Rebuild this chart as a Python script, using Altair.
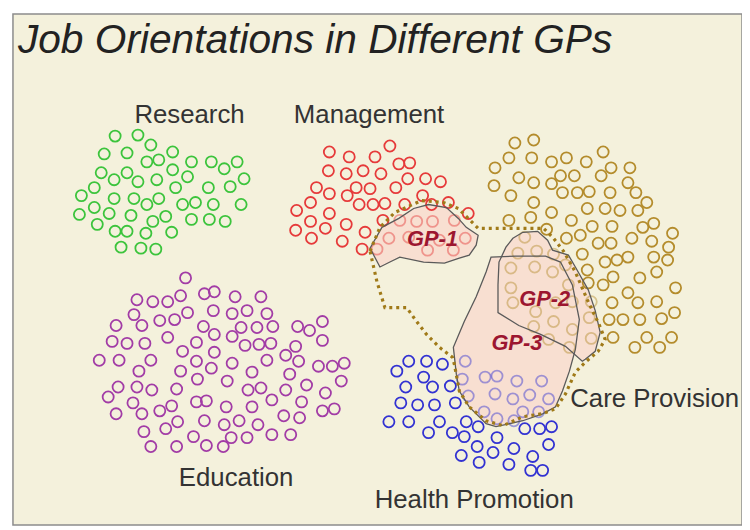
import altair as alt
import pandas as pd

# ---------------- data (in picture pixel units) -------------
groups = ["Research", "Management", "Care Provision", "Education", "Health Promotion"]
group_colors = ["#3cc43c", "#e63a3a", "#b48c2c", "#a23ca6", "#3232d2"]

research_x = [116, 139, 152, 174, 105, 128, 148, 160, 193, 213, 226, 239, 102, 115, 128, 139, 158, 174, 189, 246,
              95, 177, 210, 232, 82, 115, 135, 148, 160, 184, 197, 215, 243, 95, 80, 110, 132, 167, 154, 98,
              193, 211, 227, 116, 128, 147, 173, 122, 142, 157]
research_y = [135, 134, 144, 151, 153, 152, 161, 159, 161, 161, 168, 161, 172, 179, 172, 181, 179, 169, 176, 178,
              187, 187, 187, 186, 195, 198, 198, 204, 198, 204, 202, 204, 204, 207, 214, 213, 215, 216, 221, 224,
              219, 219, 221, 231, 231, 233, 232, 247, 248, 249]

management_x = [393, 332, 352, 378, 402, 413, 331, 349, 366, 384, 411, 429, 444, 319, 332, 359, 373, 399, 350, 426,
                313, 362, 376, 388, 408, 435, 452, 472, 299, 332, 386, 403, 420, 436, 458, 313, 349, 298, 328, 368,
                314, 345, 392, 412, 443, 469, 365, 380, 431, 457]
management_y = [145, 151, 156, 156, 163, 162, 170, 173, 170, 173, 178, 178, 181, 187, 193, 187, 188, 187, 195, 195,
                202, 204, 204, 203, 204, 204, 202, 213, 210, 213, 220, 220, 221, 221, 220, 221, 224, 230, 228, 232,
                238, 241, 238, 237, 240, 238, 249, 249, 250, 250]

care_x = [519, 538, 608, 513, 536, 556, 571, 591, 499, 616, 635, 523, 538, 565, 579, 606, 633, 498, 556, 515,
          567, 582, 594, 615, 641, 538, 652, 592, 610, 625, 643, 556, 535, 513, 576, 597, 617, 648, 659, 678,
          551, 529, 571, 585, 637, 657, 603, 616, 674,
          522, 541, 558, 587, 610, 622, 633, 659, 673,
          515, 539, 557, 570, 592, 618, 645, 662,
          515, 573, 593, 608, 633, 681,
          517, 560, 577, 596, 617, 643, 662,
          540, 680,
          538, 558, 577, 594, 614, 628, 645, 667,
          553, 574, 596, 618, 652, 677, 640, 665]
care_y = [142, 139, 151, 157, 157, 161, 157, 161, 167, 167, 167, 177, 182, 175, 175, 175, 182, 185, 183, 195,
          192, 192, 191, 192, 192, 202, 202, 208, 208, 210, 210, 212, 217, 220, 220, 226, 226, 227, 223, 233,
          229, 237, 238, 235, 238, 241, 243, 243, 247,
          253, 251, 254, 254, 262, 260, 257, 257, 260,
          268, 267, 272, 265, 270, 277, 278, 272,
          288, 285, 283, 285, 293, 288,
          303, 303, 302, 302, 303, 303, 302,
          312, 313,
          327, 322, 330, 318, 320, 320, 320, 319,
          340, 348, 339, 338, 338, 338, 348, 348]

education_x = [187, 138, 154, 169, 182, 206, 216, 135, 143, 161, 176, 189, 215, 117, 205, 113, 128, 146, 169, 198,
               216, 100, 120, 152, 184, 198, 216, 140, 182, 213, 199, 119, 138, 153, 178, 109, 134, 143, 161, 173,
               198, 208, 117, 179, 206, 145, 167, 195, 208, 152, 178,
               237, 263, 234, 249, 269, 243, 259, 275, 300, 312, 325, 234, 247, 261, 273, 288, 298, 325, 234, 269,
               301, 321, 335, 347, 254, 292, 229, 250, 263, 288, 309, 344, 328, 274, 304, 228, 254, 286, 302, 325,
               337, 226, 241, 260, 233, 249, 274, 293, 225]
education_y = [278, 300, 302, 302, 296, 294, 292, 315, 326, 321, 320, 313, 311, 326, 327, 342, 344, 344, 338, 343,
               335, 361, 361, 361, 352, 362, 353, 372, 372, 369, 380, 388, 388, 391, 390, 398, 404, 415, 412, 407,
               403, 402, 415, 423, 422, 433, 430, 438, 447, 448, 448,
               297, 297, 314, 311, 314, 328, 328, 327, 327, 331, 322, 337, 346, 345, 344, 356, 347, 341, 364, 361,
               362, 367, 367, 364, 373, 375, 382, 391, 389, 391, 386, 382, 394, 401, 403, 408, 408, 417, 419, 412,
               410, 426, 422, 426, 439, 439, 436, 436, 448]

health_x = [412, 430, 446, 400, 469, 427, 466, 489, 501, 521, 546, 409, 436, 454, 472, 499, 517, 534, 553, 404,
            421, 438, 459, 488, 501, 518, 527, 543, 392, 412, 443, 470, 482, 432, 456, 468, 529, 544, 556, 501,
            481, 497, 518, 553, 465, 483, 513, 537, 535, 547]
health_y = [362, 362, 365, 372, 362, 378, 380, 378, 377, 382, 382, 388, 388, 387, 397, 395, 400, 396, 400, 404,
            406, 406, 404, 413, 420, 422, 413, 413, 423, 423, 423, 423, 428, 434, 434, 438, 430, 430, 428, 439,
            448, 454, 450, 446, 457, 464, 466, 458, 472, 472]

# GP outlines and the dotted envelope
gp1_x = [383, 373, 385, 402, 417, 432, 450, 462, 470, 482, 480, 473, 463, 448, 427, 403, 393]
gp1_y = [267, 248, 227, 218, 208, 204, 207, 218, 227, 235, 245, 255, 258, 263, 262, 257, 262]
gp2_x = [517, 527, 542, 552, 557, 573, 580, 593, 600, 605, 600, 590, 587, 570, 545, 523, 502, 502, 503, 510]
gp2_y = [238, 232, 231, 240, 250, 255, 267, 290, 311, 333, 352, 360, 362, 347, 335, 326, 313, 285, 262, 247]
gp3_x = [495, 520, 550, 565, 577, 584, 580, 574, 567, 560, 547, 527, 500, 490, 473, 463, 460, 457, 468, 480, 490]
gp3_y = [257, 256, 256, 262, 285, 320, 350, 372, 392, 408, 415, 422, 428, 425, 408, 392, 375, 348, 322, 297, 272]
env_x = [373, 383, 398, 425, 447, 462, 474, 482, 515, 548, 558, 568, 580, 592, 604, 610, 603, 590, 580, 570,
         560, 546, 527, 507, 490, 473, 463, 458, 456, 443, 430, 420, 410, 388, 380]
env_y = [251, 227, 212, 200, 202, 208, 220, 228, 228, 228, 238, 251, 272, 300, 325, 340, 352, 363, 373, 395,
         410, 415, 418, 427, 422, 408, 392, 365, 358, 348, 335, 322, 308, 308, 282]

gp_names = ["GP-1", "GP-2", "GP-3"]
gp_label_x = [436, 549, 521]
gp_label_y = [239, 299, 344]

label_x = [191, 372, 660, 238, 478]
label_y = [122, 122, 408, 488, 510]

title_text = "Job Orientations in Different GPs"

# ---------------- tables -------------------------------------------------------
polys = [(gp1_x, gp1_y), (gp2_x, gp2_y), (gp3_x, gp3_y)]


def inside(px, py, xs, ys):
    n = len(xs)
    c = False
    j = n - 1
    for i in range(n):
        if (ys[i] > py) != (ys[j] > py):
            xint = xs[i] + (py - ys[i]) * (xs[j] - xs[i]) / (ys[j] - ys[i])
            if px < xint:
                c = not c
        j = i
    return c


rows = []
for g, xs, ys in zip(groups,
                     [research_x, management_x, care_x, education_x, health_x],
                     [research_y, management_y, care_y, education_y, health_y]):
    for x, y in zip(xs, ys):
        covered = any(inside(x, y, px, py) for px, py in polys)
        rows.append({"group": g, "x": x, "y": y, "op": 0.45 if covered else 1.0})
pts = pd.DataFrame(rows)


def poly(name, xs, ys):
    return pd.DataFrame({"shape": name, "i": list(range(len(xs))), "x": xs, "y": ys})


gp_df = pd.concat([poly("GP-1", gp1_x, gp1_y), poly("GP-2", gp2_x, gp2_y), poly("GP-3", gp3_x, gp3_y)])
env_df = poly("env", env_x, env_y)
gp_lab = pd.DataFrame({"t": gp_names, "x": gp_label_x, "y": gp_label_y})
lab = pd.DataFrame({"t": groups, "x": label_x, "y": label_y})
ttl = pd.DataFrame({"t": [title_text], "x": [18], "y": [51]})

X = alt.X("x:Q", scale=alt.Scale(domain=[13, 748], nice=False, zero=False), axis=None)
Y = alt.Y("y:Q", scale=alt.Scale(domain=[12, 527], nice=False, zero=False, reverse=True), axis=None)

gp_fill = alt.Chart(gp_df).mark_line(interpolate="linear-closed", fill="#f8dfd1", fillOpacity=1,
                                     stroke="transparent").encode(X, Y, detail="shape:N", order="i:Q")

points = alt.Chart(pts).mark_point(shape="circle", filled=False, size=125, strokeWidth=1.8).encode(
    X, Y,
    color=alt.Color("group:N", scale=alt.Scale(domain=groups, range=group_colors), legend=None),
    opacity=alt.Opacity("op:Q", scale=None))

gp_line = alt.Chart(gp_df).mark_line(interpolate="linear-closed", stroke="#5a5a5a", strokeWidth=1.3).encode(
    X, Y, detail="shape:N", order="i:Q")

env = alt.Chart(env_df).mark_line(interpolate="linear-closed", stroke="#a07a18", strokeWidth=3.2,
                                  strokeDash=[3, 4]).encode(X, Y, order="i:Q")

gp_text = alt.Chart(gp_lab).mark_text(font="Liberation Sans", fontSize=22, fontWeight="bold",
                                      fontStyle="italic", color="#9c1630").encode(X, Y, text="t:N")

labels = alt.Chart(lab).mark_text(font="Liberation Sans", fontSize=26, color="#333333",
                                  baseline="alphabetic").encode(X, Y, text="t:N")

title = alt.Chart(ttl).mark_text(font="Liberation Sans", fontSize=41, fontStyle="italic", color="#222222",
                                 align="left", baseline="alphabetic").encode(X, Y, text="t:N")

chart = alt.layer(gp_fill, points, gp_line, env, gp_text, labels, title).properties(
    width=735, height=515,
    padding={"left": 5, "top": 4, "right": 0, "bottom": 0},
    background="#ffffff",
).configure_view(fill="#f4f1dc", stroke="#8c8c8c", strokeWidth=1.5)

chart.save("out.html", embed_options={"renderer": "svg", "actions": False})
